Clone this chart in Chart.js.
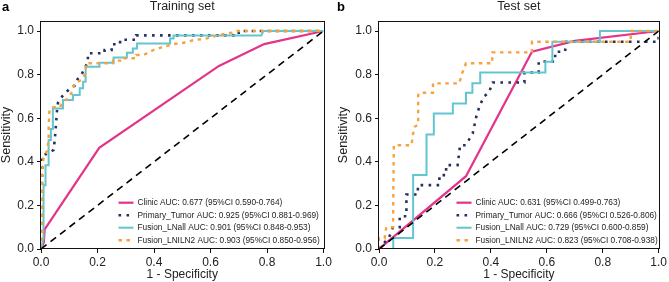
<!DOCTYPE html>
<html><head><meta charset="utf-8">
<script src="https://cdn.jsdelivr.net/npm/chart.js@4.4.1/dist/chart.umd.min.js"></script>
<style>
html,body{margin:0;padding:0;background:#fff;}
#wrap{position:relative;width:669px;height:282px;overflow:hidden;}
.panel{position:absolute;top:0;height:282px;}
</style></head><body>
<div id="wrap">
<div class="panel" style="left:0;width:335px"><canvas id="c1" width="335" height="282"></canvas></div>
<div class="panel" style="left:335px;width:334px"><canvas id="c2" width="334" height="282"></canvas></div>
</div>
<script>
// ---------- DATA ----------
const seriesNames = ['Clinic', 'Primary_Tumor', 'Fusion_LNall', 'Fusion_LNILN2'];
const panelTitles = ['Training set', 'Test set'];
const panelLetters = ['a', 'b'];
const xTicks = [0, 0.2, 0.4, 0.6, 0.8, 1.0];
const yTicks = [0, 0.2, 0.4, 0.6, 0.8, 1.0];
const tickLabels = ['0.0', '0.2', '0.4', '0.6', '0.8', '1.0'];
const xAxisTitle = '1 - Specificity';
const yAxisTitle = 'Sensitivity';
const diagonal = [[0, 0], [1, 1]];

const trainAUC = ['0.677 (95%CI 0.590-0.764)', '0.925 (95%CI 0.881-0.969)', '0.901 (95%CI 0.848-0.953)', '0.903 (95%CI 0.850-0.956)'];
const testAUC = ['0.631 (95%CI 0.499-0.763)', '0.666 (95%CI 0.526-0.806)', '0.729 (95%CI 0.600-0.859)', '0.823 (95%CI 0.708-0.938)'];

// Training set ROC points [1-specificity, sensitivity]
const trainClinic = [[0,0],[0.01,0.03],[0.013,0.09],[0.206,0.464],[0.63,0.84],[0.79,0.94],[1,1]];
const trainPrimary = [[0,0],[0.005,0.43],[0.03,0.44],[0.045,0.455],[0.05,0.52],[0.057,0.64],[0.06,0.67],[0.075,0.70],[0.09,0.72],[0.105,0.74],[0.12,0.75],[0.13,0.78],[0.143,0.80],[0.155,0.83],[0.166,0.86],[0.166,0.898],[0.225,0.898],[0.225,0.913],[0.25,0.913],[0.25,0.939],[0.28,0.939],[0.28,0.96],[0.337,0.96],[0.337,0.98],[0.70,0.98],[0.70,1],[1,1]];
const trainLNall = [[0,0],[0.009,0.05],[0.009,0.293],[0.016,0.293],[0.016,0.384],[0.027,0.384],[0.027,0.50],[0.035,0.50],[0.035,0.55],[0.042,0.55],[0.042,0.645],[0.078,0.645],[0.078,0.683],[0.113,0.683],[0.113,0.706],[0.137,0.706],[0.137,0.737],[0.149,0.737],[0.149,0.767],[0.158,0.767],[0.158,0.836],[0.207,0.836],[0.207,0.855],[0.257,0.855],[0.257,0.879],[0.304,0.879],[0.304,0.90],[0.325,0.90],[0.325,0.92],[0.34,0.92],[0.34,0.943],[0.457,0.943],[0.457,0.966],[0.469,0.966],[0.469,0.98],[0.78,0.98],[0.787,1],[1,1]];
const trainLNILN2 = [[0,0],[0.004,0.08],[0.004,0.357],[0.009,0.418],[0.021,0.449],[0.027,0.5],[0.027,0.56],[0.03,0.637],[0.039,0.65],[0.066,0.65],[0.078,0.675],[0.095,0.69],[0.107,0.714],[0.119,0.76],[0.13,0.767],[0.143,0.775],[0.154,0.798],[0.16,0.836],[0.16,0.852],[0.255,0.852],[0.255,0.864],[0.29,0.864],[0.29,0.875],[0.337,0.875],[0.337,0.89],[0.363,0.89],[0.398,0.913],[0.434,0.928],[0.469,0.94],[0.504,0.946],[0.54,0.958],[0.587,0.966],[0.634,0.983],[0.676,0.992],[0.693,1],[1,1]];

// Test set ROC points
const testClinic = [[0,0],[0.311,0.334],[0.547,0.905],[0.70,0.955],[1,1]];
const testPrimary = [[0,0],[0.021,0.032],[0.035,0.05],[0.05,0.10],[0.074,0.10],[0.074,0.15],[0.098,0.15],[0.098,0.25],[0.139,0.25],[0.139,0.293],[0.216,0.293],[0.216,0.339],[0.24,0.339],[0.24,0.385],[0.281,0.385],[0.29,0.476],[0.31,0.476],[0.335,0.53],[0.35,0.62],[0.364,0.668],[0.376,0.70],[0.394,0.72],[0.406,0.764],[0.52,0.764],[0.52,0.81],[0.571,0.81],[0.571,0.86],[0.63,0.86],[0.63,0.905],[0.665,0.905],[0.67,0.951],[1,0.951],[1,1]];
const testLNall = [[0,0],[0.051,0],[0.051,0.05],[0.122,0.05],[0.122,0.339],[0.170,0.339],[0.170,0.525],[0.196,0.525],[0.196,0.622],[0.264,0.622],[0.264,0.668],[0.311,0.668],[0.311,0.717],[0.334,0.717],[0.334,0.76],[0.362,0.76],[0.362,0.81],[0.595,0.81],[0.595,0.859],[0.62,0.859],[0.62,0.951],[0.79,0.951],[0.79,1],[1,1]];
const testLNILN2 = [[0,0],[0,0.048],[0.02,0.048],[0.026,0.1],[0.05,0.1],[0.053,0.476],[0.116,0.476],[0.122,0.53],[0.128,0.561],[0.14,0.571],[0.14,0.706],[0.145,0.717],[0.193,0.717],[0.193,0.76],[0.287,0.76],[0.295,0.798],[0.311,0.852],[0.405,0.852],[0.405,0.902],[0.547,0.902],[0.547,0.951],[0.90,0.951],[0.90,1],[1,1]];

// ---------- STYLE ----------
const styles = [
  {color:'#E3338B', width:2.2, dash:[]},
  {color:'#27315E', width:2.6, dash:[2.6,5.4]},
  {color:'#62C5CF', width:2.0, dash:[]},
  {color:'#F5A23F', width:2.4, dash:[3.5,4.5]}
];
const FONT = 'Arial, "Liberation Sans", Helvetica, sans-serif';

const decor = {
  id: 'decor',
  afterDraw(chart, args, o) {
    const {ctx, chartArea: a} = chart;
    ctx.save();
    // frame
    ctx.setLineDash([]);
    ctx.strokeStyle = '#111';
    ctx.lineWidth = 1;
    ctx.strokeRect(Math.round(a.left) - 0.5, Math.round(a.top) + 0.5, Math.round(a.right) - Math.round(a.left) + 1, Math.round(a.bottom) - Math.round(a.top) - 1);
    // panel letter
    ctx.fillStyle = '#000';
    ctx.textBaseline = 'middle';
    ctx.textAlign = 'left';
    ctx.font = 'bold 13px ' + FONT;
    ctx.fillText(o.letter, 2, 7);
    // title
    ctx.font = '12.5px ' + FONT;
    ctx.textAlign = 'center';
    ctx.fillStyle = '#222';
    ctx.fillText(o.title, (a.left + a.right) / 2, 7);
    // legend
    ctx.font = '8.3px ' + FONT;
    ctx.textAlign = 'left';
    const x0 = a.left + 77.5;
    o.labels.forEach((t, i) => {
      const y = a.bottom - 46.3 + i * 12.5;
      const s = styles[i];
      ctx.beginPath();
      ctx.strokeStyle = s.color;
      ctx.lineWidth = s.width;
      ctx.setLineDash(s.dash);
      ctx.lineCap = 'butt';
      ctx.moveTo(x0, y);
      ctx.lineTo(x0 + 15, y);
      ctx.stroke();
      ctx.setLineDash([]);
      ctx.fillStyle = '#222';
      ctx.fillText(t, x0 + 19, y + 0.5);
    });
    ctx.restore();
  }
};

function makeChart(id, series, aucs, idx, yAxisWidth, padRight, yTitlePad) {
  const toXY = arr => arr.map(p => ({x: p[0], y: p[1]}));
  const datasets = series.map((s, i) => ({
    label: seriesNames[i],
    data: toXY(s),
    borderColor: styles[i].color,
    borderWidth: styles[i].width,
    borderDash: styles[i].dash,
    pointRadius: 0,
    tension: 0,
    fill: false,
    order: 4 - i
  }));
  datasets.push({label: 'reference', data: toXY(diagonal), borderColor: '#000', borderWidth: 1.6, borderDash: [7, 5], pointRadius: 0, fill: false, order: 0});
  const labels = aucs.map((a, i) => seriesNames[i] + ' AUC: ' + a);
  const tickFont = {family: FONT, size: 12};
  return new Chart(document.getElementById(id), {
    type: 'line',
    data: {datasets},
    plugins: [decor],
    options: {
      responsive: false,
      animation: false,
      devicePixelRatio: 1,
      layout: {padding: {left: 0, right: padRight, top: 21, bottom: 0}},
      plugins: {
        legend: {display: false},
        tooltip: {enabled: false},
        decor: {letter: panelLetters[idx], title: panelTitles[idx], labels}
      },
      scales: {
        x: {
          type: 'linear', min: 0, max: 1,
          afterBuildTicks: sc => { sc.ticks = xTicks.map(v => ({value: v})); },
          afterFit: sc => { sc.height = 33; },
          ticks: {font: tickFont, color: '#222', padding: 2, maxRotation: 0,
                  callback: (v) => tickLabels[xTicks.findIndex(t => Math.abs(t - v) < 1e-9)]},
          grid: {drawOnChartArea: false, drawTicks: true, tickLength: 4, color: '#111', lineWidth: 1},
          border: {display: false},
          title: {display: true, text: xAxisTitle, font: {family: FONT, size: 12}, color: '#222', padding: {top: 0, bottom: 0}}
        },
        y: {
          type: 'linear', min: 0, max: 1.046,
          afterBuildTicks: sc => { sc.ticks = yTicks.map(v => ({value: v})); },
          afterFit: sc => { sc.width = yAxisWidth; },
          ticks: {font: tickFont, color: '#222', padding: 3,
                  callback: (v) => tickLabels[yTicks.findIndex(t => Math.abs(t - v) < 1e-9)]},
          grid: {drawOnChartArea: false, drawTicks: true, tickLength: 4, color: '#111', lineWidth: 1},
          border: {display: false},
          title: {display: true, text: yAxisTitle, font: {family: FONT, size: 12.5, lineHeight: 1}, color: '#222', padding: {top: yTitlePad, bottom: 0}}
        }
      }
    }
  });
}

makeChart('c1', [trainClinic, trainPrimary, trainLNall, trainLNILN2], trainAUC, 0, 41, 11.5, 0);
makeChart('c2', [testClinic, testPrimary, testLNall, testLNILN2], testAUC, 1, 44, 7.5, 2.5);
</script>
</body></html>
